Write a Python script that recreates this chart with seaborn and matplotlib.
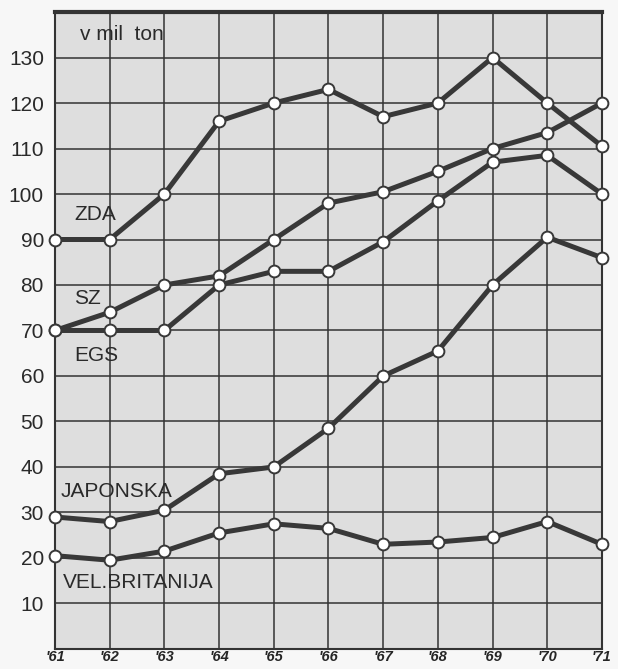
import pandas as pd
import matplotlib.pyplot as plt
import seaborn as sns

years = [61, 62, 63, 64, 65, 66, 67, 68, 69, 70, 71]
year_labels = ["'61", "'62", "'63", "'64", "'65", "'66", "'67", "'68", "'69", "'70", "'71"]
zda = [90, 90, 100, 116, 120, 123, 117, 120, 130, 120, 110.5]
sz = [70, 74, 80, 82, 90, 98, 100.5, 105, 110, 113.5, 120]
egs = [70, 70, 70, 80, 83, 83, 89.5, 98.5, 107, 108.5, 100]
japonska = [29, 28, 30.5, 38.5, 40, 48.5, 60, 65.5, 80, 90.5, 86]
vel_britanija = [20.5, 19.5, 21.5, 25.5, 27.5, 26.5, 23, 23.5, 24.5, 28, 23]
series_names = ["ZDA", "SZ", "EGS", "JAPONSKA", "VEL.BRITANIJA"]
y_ticks = [10, 20, 30, 40, 50, 60, 70, 80, 90, 100, 110, 120, 130]

rows = []
for name, vals in zip(series_names, [zda, sz, egs, japonska, vel_britanija]):
    for yr, v in zip(years, vals):
        rows.append({"year": yr, "value": v, "country": name})
df = pd.DataFrame(rows)

sns.set_style("white")
plt.rcParams['font.family'] = ['Liberation Sans', 'DejaVu Sans']

fig = plt.figure(figsize=(6.18, 6.69), dpi=100)
ax = fig.add_axes([0.089, 0.03, 0.885, 0.952])
ax.set_facecolor("#dedede")
fig.patch.set_facecolor("#f7f7f7")

sns.lineplot(data=df, x="year", y="value", hue="country", palette=["#383838"] * 5,
             linewidth=3.6, marker="o", markersize=8.5, markerfacecolor="white",
             markeredgecolor="#383838", markeredgewidth=1.4, legend=False, ax=ax,
             zorder=3, clip_on=False)

ax.set_xlim(61, 71)
ax.set_ylim(0, 140)
ax.set_xticks(years)
ax.set_xticklabels(year_labels, fontsize=10.5, style="italic", fontweight="bold")
ax.set_yticks(y_ticks)
ax.set_yticklabels([str(t) for t in y_ticks], fontsize=15, color="#2a2a2a")
ax.tick_params(length=0)
ax.tick_params(axis="y", pad=8)
ax.tick_params(axis="x", pad=1)
ax.grid(True, color="#333333", linewidth=1.1)
ax.set_axisbelow(True)
for s in ax.spines.values():
    s.set_color("#333333")
    s.set_linewidth(1.5)
ax.spines["top"].set_linewidth(3)
ax.set_xlabel("")
ax.set_ylabel("")

txt = dict(fontsize=15, color="#2a2a2a")
ax.text(61.45, 135, "v mil  ton", va="center", ha="left", **txt)
ax.text(61.35, 95.5, "ZDA", va="center", ha="left", **txt)
ax.text(61.35, 77, "SZ", va="center", ha="left", **txt)
ax.text(61.35, 64.5, "EGS", va="center", ha="left", **txt)
ax.text(61.1, 34.5, "JAPONSKA", va="center", ha="left", **txt)
ax.text(61.15, 14.5, "VEL.BRITANIJA", va="center", ha="left", **txt)

plt.savefig("out.png", dpi=100)
plt.close()
